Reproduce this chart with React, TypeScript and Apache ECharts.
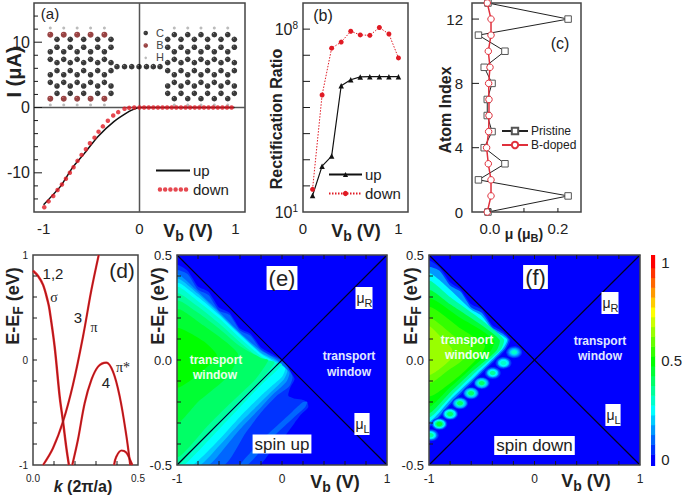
import React, { useEffect, useRef } from "react";
import * as echarts from "echarts";

const F = "Liberation Sans";

// (a) I-V curves
const A_UP = [[-1,-14.9],[-0.82,-12],[-0.7,-9.24],[-0.576,-7.06],[-0.4375,-4.5],[-0.264,-2.13],[-0.108,-0.6],[-0.055,-0.25],[0,0],[0.5,0],[0.99,0]];
const A_DOWN = [[-0.993,-15.28],[-0.948,-14.37],[-0.899,-13.55],[-0.854,-12.64],[-0.809,-11.78],[-0.767,-10.91],[-0.726,-10],[-0.6875,-9.14],[-0.646,-8.17],[-0.604,-7.26],[-0.559,-6.4],[-0.517,-5.48],[-0.469,-4.62],[-0.427,-3.7],[-0.382,-2.89],[-0.33,-2.03],[-0.274,-1.22],[-0.222,-0.71],[-0.156,-0.2],[-0.108,-0.05],[-0.055,0],[0,0],[0.048,0],[0.096,0],[0.144,0],[0.192,0],[0.24,0],[0.288,0],[0.336,0],[0.384,0],[0.432,0],[0.48,0],[0.528,0],[0.576,0],[0.624,0],[0.672,0],[0.72,0],[0.768,0],[0.816,0],[0.864,0],[0.912,0],[0.96,0]];

// (a) inset atoms, in the panel's own axis units
const L_COL_A = [-0.93,-0.79,-0.65,-0.51,-0.366];
const L_COL_B = [-0.86,-0.722,-0.582,-0.436,-0.297];
const R_COL_A = [0.363,0.503,0.641,0.78,0.92];
const R_COL_B = [0.294,0.433,0.572,0.71,0.85,0.989];
const ROW_A_EDGE = [11.15,1.35];
const ROW_A = [8.54,7.37,5.02,3.85];
const ROW_B = [10.44,9.22,6.86,5.64,3.29,2.17];
const ROW_H = [12.17,0.38];
const CHAIN_V = [-0.235,-0.156,-0.081,-0.005,0.073,0.144,0.214];
const CHAIN_I = 6.25;
const KEY_V = 0.065;
const KEY_I = [11.4,9.5,7.6];

const cross = (xs: number[], ys: number[]) => xs.flatMap((x) => ys.map((y) => [x, y]));
const ATOMS_C = [
  ...cross(L_COL_A, ROW_A), ...cross(L_COL_B, ROW_B),
  ...cross(R_COL_A, ROW_A), ...cross(R_COL_A, ROW_A_EDGE), ...cross(R_COL_B, ROW_B),
  ...CHAIN_V.map((v) => [v, CHAIN_I]),
];
const ATOMS_B = cross(L_COL_A, ROW_A_EDGE);
const ATOMS_H = [...cross(L_COL_A, ROW_H), ...cross(R_COL_A, ROW_H)];

// (b) rectification ratio
const B_V = [0.1,0.2,0.3,0.4,0.5,0.6,0.7,0.8,0.9,1.0];
const B_UP = [43,570,1380,6.8e5,1.15e6,1.48e6,1.51e6,1.51e6,1.51e6,1.51e6];
const B_DOWN = [74,3.0e5,1.86e7,3.2e7,8.3e7,6.0e7,5.8e7,1.15e8,6.5e7,7.9e6];

// (c) magnetic moment by atom index
const C_INDEX = [0,1,2,3,4,5,6,7,8,9,10,11,12,13];
const C_PRISTINE = [-0.006,0.23,-0.034,0.044,-0.017,0.006,-0.008,-0.008,0.006,-0.017,0.044,-0.034,0.23,-0.006];
const C_BDOPED = [-0.008,0.003,0.003,-0.005,-0.01,-0.004,-0.003,-0.003,-0.004,0,-0.005,0.003,0.003,-0.008];

// (d) band structure
const D_BAND_12 = [[0,0.85],[0.024,0.8],[0.048,0.715],[0.071,0.555],[0.079,0.475],[0.103,0.127],[0.127,-0.349],[0.143,-0.586],[0.159,-0.84],[0.171,-1]];
const D_BAND_3 = [[0.048,-1],[0.095,-0.84],[0.143,-0.586],[0.19,-0.238],[0.238,0.222],[0.278,0.666],[0.313,1]];
const D_BAND_4 = [[0.187,-1],[0.214,-0.76],[0.246,-0.412],[0.278,-0.19],[0.31,-0.063],[0.349,-0.025],[0.381,-0.111],[0.413,-0.349],[0.444,-0.713],[0.463,-1]];
const D_BAND_5 = [[0.386,-1],[0.397,-0.92],[0.421,-0.862],[0.444,-0.88],[0.462,-0.95],[0.473,-1]];

// tick positions
const A_MAJOR = [-10,0,10];
const A_MINOR = [-14,-12,-8,-6,-4,-2,2,4,6,8,12,14];
const B_DECADES = [1e2,1e3,1e4,1e5,1e6,1e7,1e8];
const C_ROWS = [4,8,12];
const C_COLS = [0,0.1,0.2];
const D_ROWS = [-0.8,-0.6,-0.4,-0.2,0,0.2,0.4,0.6,0.8];
const D_COLS = [0.1,0.2,0.3,0.4];
const MAP_ROWS = [-0.4,-0.3,-0.2,-0.1,0,0.1,0.2,0.3,0.4];
const MAP_COLS = [-0.8,-0.6,-0.4,-0.2,0,0.2,0.4,0.6,0.8];

// (e) contours of the spin-up transmission: [level, outline in (Vb, E)]
const FULL = [[-1,-0.5],[1,-0.5],[1,0.5],[-1,0.5]];
const E_CONTOURS: [number, number[][]][] = [
  [0, FULL],
  [0.05, [[-1,0.45],[-0.9,0.425],[-0.8,0.35],[-0.7,0.325],[-0.6,0.25],[-0.5,0.225],[-0.4,0.15],[-0.3,0.125],[-0.2,0.06],[-0.1,0.03],[0,0],[0.06,-0.04],[0.12,-0.09],[0.08,-0.13],[0.06,-0.17],[0.13,-0.185],[0.2,-0.19],[0.24,-0.2],[0.25,-0.225],[0.18,-0.26],[0.12,-0.3],[0.03,-0.36],[-0.1,-0.43],[-0.22,-0.5],[-1,-0.5]]],
  [0.1, [[0.24,-0.2],[0.22,-0.225],[0.11,-0.275],[-0.02,-0.335],[-0.145,-0.395],[-0.25,-0.46],[-0.33,-0.5],[-0.4,-0.5],[-0.3,-0.44],[-0.16,-0.365],[-0.03,-0.305],[0.1,-0.245],[0.2,-0.2]]],
  [0.1, [[-1,0.425],[-0.9,0.41],[-0.8,0.335],[-0.7,0.31],[-0.6,0.235],[-0.5,0.215],[-0.4,0.14],[-0.3,0.115],[-0.2,0.05],[-0.1,0.02],[0.02,-0.01],[0.1,-0.08],[0.07,-0.125],[-0.05,-0.17],[-0.2,-0.25],[-0.35,-0.35],[-0.55,-0.5],[-1,-0.5]]],
  [0.15, [[-1,0.405],[-0.8,0.325],[-0.6,0.23],[-0.4,0.13],[-0.2,0.045],[-0.05,0],[0.07,-0.06],[0.04,-0.105],[-0.1,-0.17],[-0.2,-0.225],[-0.4,-0.33],[-0.55,-0.42],[-0.7,-0.5],[-1,-0.5]]],
  [0.2, [[-1,0.385],[-0.8,0.315],[-0.6,0.222],[-0.4,0.125],[-0.2,0.035],[-0.05,-0.005],[0.05,-0.05],[0.02,-0.09],[-0.1,-0.15],[-0.2,-0.2],[-0.4,-0.3],[-0.6,-0.41],[-0.78,-0.5],[-1,-0.5]]],
  [0.25, [[-1,0.365],[-0.8,0.3],[-0.6,0.215],[-0.4,0.12],[-0.2,0.03],[-0.08,-0.005],[0.03,-0.04],[0,-0.08],[-0.1,-0.125],[-0.2,-0.17],[-0.4,-0.27],[-0.6,-0.38],[-0.85,-0.5],[-1,-0.5]]],
  [0.3, [[-1,0.345],[-0.8,0.28],[-0.6,0.2],[-0.4,0.105],[-0.2,0.018],[-0.1,-0.01],[0,-0.02],[-0.05,-0.05],[-0.2,-0.12],[-0.4,-0.225],[-0.6,-0.33],[-0.93,-0.5],[-1,-0.5]]],
  [0.35, [[-1,0.315],[-0.8,0.255],[-0.6,0.175],[-0.4,0.085],[-0.2,0.005],[-0.07,-0.01],[-0.2,-0.095],[-0.4,-0.19],[-0.6,-0.295],[-0.8,-0.4],[-1,-0.5]]],
  [0.4, [[-1,0.28],[-0.8,0.225],[-0.6,0.15],[-0.4,0.065],[-0.2,0.01],[-0.13,0],[-0.25,-0.09],[-0.5,-0.21],[-0.7,-0.31],[-1,-0.46]]],
  [0.45, [[-1,0.24],[-0.75,0.165],[-0.42,0.03],[-0.52,-0.08],[-0.8,-0.2],[-1,-0.3]]],
  [0.5, [[-1,0.15],[-0.75,0.09],[-0.62,0.02],[-0.8,-0.07],[-1,-0.13]]],
];

// (f) contours of the spin-down transmission
const F_CONTOURS: [number, number[][]][] = [
  [0, FULL],
  [0.05, [[-1,0.47],[-0.9,0.44],[-0.8,0.37],[-0.7,0.335],[-0.6,0.265],[-0.5,0.24],[-0.4,0.165],[-0.3,0.135],[-0.23,0.094],[-0.27,0.05],[-0.55,-0.09],[-0.78,-0.205],[-1,-0.315]]],
  [0.15, [[-1,0.44],[-0.9,0.425],[-0.8,0.355],[-0.7,0.325],[-0.6,0.25],[-0.5,0.225],[-0.4,0.155],[-0.3,0.125],[-0.245,0.097],[-0.28,0.055],[-0.55,-0.08],[-0.78,-0.195],[-1,-0.305]]],
  [0.25, [[-1,0.41],[-0.8,0.335],[-0.6,0.24],[-0.5,0.21],[-0.4,0.145],[-0.26,0.098],[-0.3,0.055],[-0.55,-0.07],[-0.78,-0.18],[-1,-0.29]]],
  [0.35, [[-1,0.375],[-0.8,0.3],[-0.5,0.19],[-0.29,0.098],[-0.32,0.05],[-0.55,-0.055],[-0.78,-0.165],[-1,-0.27]]],
  [0.45, [[-1,0.33],[-0.8,0.265],[-0.5,0.165],[-0.33,0.095],[-0.36,0.045],[-0.6,-0.06],[-0.8,-0.155],[-1,-0.25]]],
  [0.5, [[-1,0.29],[-0.7,0.2],[-0.5,0.14],[-0.38,0.09],[-0.42,0.04],[-0.6,-0.04],[-0.8,-0.13],[-1,-0.22]]],
  [0.55, [[-1,0.25],[-0.7,0.15],[-0.47,0.07],[-0.52,0.02],[-0.7,-0.07],[-1,-0.17]]],
  [0.6, [[-1,0.2],[-0.75,0.11],[-0.6,0.06],[-0.68,0],[-0.82,-0.05],[-1,-0.11]]],
  [0.65, [[-1,0.16],[-0.85,0.09],[-0.78,0.05],[-0.8,0],[-1,-0.07]]],
];
const F_BLOB_V = [-0.193,-0.294,-0.396,-0.5,-0.601,-0.706,-0.8,-0.902,-0.984];
const F_BLOB_E = [0.037,-0.014,-0.062,-0.11,-0.158,-0.206,-0.257,-0.305,-0.358];
const F_BLOB_PEAK = [0.3,0.32,0.35,0.38,0.38,0.4,0.42,0.45,0.35];
const BLOB_STEPS = [0.15,0.35,0.55,0.75,1];

// colour bar
const CB_LEVELS = [0,0.05,0.1,0.15,0.2,0.25,0.3,0.35,0.4,0.45,0.5,0.55,0.6,0.65,0.7,0.75,0.8,0.85,0.9,0.95,1];
const CB_MIN = -0.035;
const CB_MAX = 1.04;

const VB_TICKS = [-1,0,1];

const jet = (v: number) => {
  const t = Math.max(0, Math.min(1, v)) * 4;
  const c = (x: number) => Math.round(Math.max(0, Math.min(1, x)) * 255);
  let r = 0, g = 0, b = 0;
  if (t < 1) { g = t; b = 1; }
  else if (t < 2) { g = 1; b = 2 - t; }
  else if (t < 3) { r = t - 2; g = 1; }
  else { r = 1; g = 4 - t; }
  return `rgb(${c(r)},${c(g)},${c(b)})`;
};

const sub = (size: number, pad: number, bold = true) => ({
  m: { fontSize: size, fontWeight: bold ? "bold" : "normal", fontFamily: F, fill: "#222", color: "#222" },
  s: { fontSize: Math.round(size * 0.78), fontWeight: bold ? "bold" : "normal", fontFamily: F, color: "#222", verticalAlign: "bottom", padding: [pad, 0, 0, 0] },
});

const T = (text: string, x: number, y: number, size: number, o: any = {}) => ({
  type: "text", x, y, z: 100, rotation: o.rot || 0, silent: true,
  style: {
    text, fontSize: size, fontFamily: o.family || F, fontWeight: o.bold ? "bold" : "normal",
    fontStyle: o.italic ? "italic" : "normal",
    fill: o.fill || "#222", align: "center", verticalAlign: "middle",
    rich: o.rich, backgroundColor: o.bg, padding: o.pad,
  },
});

const ROT = Math.PI / 2;
const GRAPHIC = [
  T("{m|I (μA)}", 14, 72, 20, { rot: ROT, bold: true, rich: sub(20, 0) }),
  T("{m|V}{s|b}{m| (V)}", 188, 231, 18, { bold: true, rich: sub(18, 9) }),
  T("(a)", 50, 13, 15),
  T("C", 160, 32.7, 11, { fill: "#444" }),
  T("B", 160, 45, 11, { fill: "#444" }),
  T("H", 160, 57.3, 11, { fill: "#444" }),
  T("Rectification Ratio", 276, 119, 16, { rot: ROT, bold: true }),
  T("{m|V}{s|b}{m| (V)}", 356, 231, 18, { bold: true, rich: sub(18, 9) }),
  T("(b)", 323, 15, 16),
  T("Atom Index", 445, 110, 16, { rot: ROT, bold: true }),
  T("{m|μ (μ}{s|B}{m|)}", 524, 234, 14, { bold: true, rich: sub(14, 7) }),
  T("(c)", 560, 43, 16),
  T("{m|E-E}{s|F}{m| (eV)}", 13, 306, 18, { rot: ROT, bold: true, rich: sub(18, 9) }),
  T("1,2", 53, 273, 15),
  T("σ", 54, 297, 14, { family: "Liberation Serif" }),
  T("3", 78, 317, 15),
  T("π", 94, 327, 14, { family: "Liberation Serif" }),
  T("(d)", 122, 270, 21),
  T("π*", 123, 367, 14, { family: "Liberation Serif" }),
  T("4", 106, 382, 15),
  T("{i|k} {m|(2π/a)}", 83, 486, 16, { bold: true, rich: { i: { fontSize: 16, fontWeight: "bold", fontStyle: "italic", fontFamily: F, color: "#222" }, m: { fontSize: 16, fontWeight: "bold", fontFamily: F, color: "#222" } } }),
  T("{m|E-E}{s|F}{m| (eV)}", 158, 306, 18, { rot: ROT, bold: true, rich: sub(18, 9) }),
  T("{m|V}{s|b}{m| (V)}", 335, 482, 18, { bold: true, rich: sub(18, 9) }),
  T("(e)", 282, 278, 22, { bg: "#fff", pad: [1, 2, 1, 2] }),
  T("spin up", 282, 444, 17, { bg: "#fff", pad: [1, 2, 1, 2] }),
  T("{m|μ}{s|R}", 364, 298, 14, { bg: "#fff", pad: [1, 0, 1, 1], rich: sub(14, 9, false) }),
  T("{m|μ}{s|L}", 362, 424, 14, { bg: "#fff", pad: [1, 0, 1, 1], rich: sub(14, 9, false) }),
  T("transport", 216, 360, 12, { bold: true, fill: "#eaffea" }),
  T("window", 215, 375, 12, { bold: true, fill: "#eaffea" }),
  T("transport", 349, 356, 12, { bold: true, fill: "#e0e8ff" }),
  T("window", 349, 372, 12, { bold: true, fill: "#e0e8ff" }),
  T("{m|E-E}{s|F}{m| (eV)}", 411, 306, 18, { rot: ROT, bold: true, rich: sub(18, 9) }),
  T("{m|V}{s|b}{m| (V)}", 586, 481, 18, { bold: true, rich: sub(18, 9) }),
  T("(f)", 535.5, 277, 22, { bg: "#fff", pad: [1, 2, 1, 2] }),
  T("spin down", 534.5, 445.5, 17, { bg: "#fff", pad: [1, 2, 1, 2] }),
  T("{m|μ}{s|R}", 610, 303, 14, { bg: "#fff", pad: [1, 0, 1, 1], rich: sub(14, 9, false) }),
  T("{m|μ}{s|L}", 613, 415, 14, { bg: "#fff", pad: [1, 0, 1, 1], rich: sub(14, 9, false) }),
  T("transport", 467, 340, 12, { bold: true, fill: "#f0fff0" }),
  T("window", 467, 355, 12, { bold: true, fill: "#f0fff0" }),
  T("transport", 600, 341, 12, { bold: true, fill: "#e0e8ff" }),
  T("window", 600, 356, 12, { bold: true, fill: "#e0e8ff" }),
];

const grid = (left: number, top: number, width: number, height: number, extra: any = {}) => ({
  left, top, width, height, show: true, borderColor: "#444", borderWidth: 1.5, backgroundColor: "transparent", containLabel: false, ...extra,
});
const LBL = (size: number, margin: number, extra: any = {}) => ({ fontSize: size, fontFamily: F, color: "#222", margin, ...extra });
const NOTICK = { show: false };
const NOLINE = { show: false, onZero: false };
const NOSPLIT = { show: false };

const xAxes = [
  { gridIndex: 0, type: "value", min: -1.1, max: 1.1, axisLine: NOLINE, splitLine: NOSPLIT, axisTick: NOTICK, axisLabel: LBL(15, 9, { customValues: VB_TICKS }) },
  { gridIndex: 1, type: "value", min: 0, max: 1.1, axisLine: NOLINE, splitLine: NOSPLIT, axisTick: NOTICK, axisLabel: LBL(15, 9, { customValues: [0, 1] }) },
  { gridIndex: 2, type: "value", min: -0.053, max: 0.268, axisLine: NOLINE, splitLine: NOSPLIT, axisTick: NOTICK, axisLabel: LBL(15, 9, { customValues: [0, 0.2], formatter: (v: number) => v.toFixed(1) }) },
  { gridIndex: 3, type: "value", min: 0, max: 0.5, interval: 0.1, axisLine: NOLINE, splitLine: NOSPLIT, axisTick: NOTICK, axisLabel: LBL(10, 8, { customValues: [0, 0.5], formatter: (v: number) => v.toFixed(1) }) },
  { gridIndex: 4, type: "value", min: -1, max: 1, interval: 0.2, axisLine: NOLINE, splitLine: NOSPLIT, axisTick: NOTICK, axisLabel: LBL(12, 8, { customValues: VB_TICKS }) },
  { gridIndex: 5, type: "value", min: -1, max: 1, interval: 0.2, axisLine: NOLINE, splitLine: NOSPLIT, axisTick: NOTICK, axisLabel: LBL(12, 8, { customValues: VB_TICKS }) },
  { gridIndex: 6, type: "value", min: 0, max: 1, show: false },
];
const yAxes = [
  { gridIndex: 0, type: "value", min: -16, max: 16, axisLine: NOLINE, splitLine: NOSPLIT, axisTick: NOTICK, axisLabel: LBL(16, 4, { customValues: A_MAJOR }) },
  {
    gridIndex: 1, type: "log", logBase: 10, min: 10, max: 1e9, splitNumber: 8, axisLine: NOLINE, splitLine: NOSPLIT, minorTick: { show: false }, axisTick: NOTICK,
    axisLabel: LBL(16, 5, {
      formatter: (v: number) => { const e = Math.round(Math.log10(v)); return e === 1 || e === 8 ? `{b|10}{t|${e}}` : ""; },
      rich: { b: { fontSize: 16, fontFamily: F, color: "#222" }, t: { fontSize: 10, fontFamily: F, color: "#222", verticalAlign: "top", padding: [0, 0, 8, 0] } },
    }),
  },
  { gridIndex: 2, type: "value", min: 0, max: 13, axisLine: NOLINE, splitLine: NOSPLIT, axisTick: NOTICK, axisLabel: LBL(15, 9, { customValues: [0, 4, 8, 12] }) },
  { gridIndex: 3, type: "value", min: -1, max: 1, interval: 0.2, axisLine: NOLINE, splitLine: NOSPLIT, axisTick: NOTICK, axisLabel: LBL(10, 5, { customValues: [-1, 0, 1] }) },
  { gridIndex: 4, type: "value", min: -0.5, max: 0.5, interval: 0.1, axisLine: NOLINE, splitLine: NOSPLIT, axisTick: NOTICK, axisLabel: LBL(13, 5, { customValues: [-0.5, 0, 0.5], formatter: (v: number) => v.toFixed(1) }) },
  { gridIndex: 5, type: "value", min: -0.5, max: 0.5, interval: 0.1, axisLine: NOLINE, splitLine: NOSPLIT, axisTick: NOTICK, axisLabel: LBL(13, 5, { customValues: [-0.5, 0, 0.5], formatter: (v: number) => v.toFixed(1) }) },
  { gridIndex: 6, type: "value", position: "right", min: CB_MIN, max: CB_MAX, axisLine: NOLINE, splitLine: NOSPLIT, axisTick: NOTICK, axisLabel: LBL(15, 6, { customValues: [0, 0.5, 1] }) },
];

// ticks on the inner side of a frame: (dx, dy) is the tick's vector from its anchor on the frame
const ticks = (ai: number, points: number[][], dx: number, dy: number) => ({
  type: "custom", xAxisIndex: ai, yAxisIndex: ai, clip: false, silent: true, z: 12,
  data: points, encode: { x: 0, y: 1 },
  renderItem: (_: any, api: any) => {
    const c = api.coord([api.value(0), api.value(1)]);
    return { type: "line", shape: { x1: c[0], y1: c[1], x2: c[0] + dx, y2: c[1] + dy }, style: { stroke: "#1a1a1a", lineWidth: 1 } };
  },
});
const atX = (x: number, ys: number[]) => ys.map((y) => [x, y]);
const atY = (y: number, xs: number[]) => xs.map((x) => [x, y]);

const atomFill = (hi: string, lo: string) =>
  new echarts.graphic.RadialGradient(0.35, 0.3, 0.5, [{ offset: 0, color: hi }, { offset: 0.35, color: lo }, { offset: 1, color: lo }]);

const plainLine = (ai: number, data: number[][], color: string, width: number, z = 2) => ({
  type: "line", xAxisIndex: ai, yAxisIndex: ai, data, symbol: "none", silent: true, z,
  lineStyle: { color, width }, emphasis: { disabled: true },
});
const band = (data: number[][], color: string, width: number, z: number) => ({
  type: "line", xAxisIndex: 3, yAxisIndex: 3, data, symbol: "none", smooth: 0.35, silent: true, z, lineStyle: { color, width },
});
const contourSeries = (ai: number, list: [number, number[][]][]) => ({
  type: "custom", xAxisIndex: ai, yAxisIndex: ai, clip: true, silent: true, z: 2,
  data: list.map((c) => c[1][0]), encode: { x: 0, y: 1 },
  renderItem: (p: any, api: any) => {
    const [lv, pts] = list[p.dataIndex];
    return { type: "polygon", shape: { points: pts.map((q) => api.coord(q)), smooth: lv > 0 ? 0.2 : 0 }, style: { fill: jet(lv) } };
  },
});
const blobSeries = {
  type: "custom", xAxisIndex: 5, yAxisIndex: 5, clip: true, silent: true, z: 3,
  data: F_BLOB_V.map((v, i) => [v, F_BLOB_E[i], F_BLOB_PEAK[i]]), encode: { x: 0, y: 1 },
  renderItem: (_: any, api: any) => {
    const c = api.coord([api.value(0), api.value(1)]);
    const peak = api.value(2);
    const [rx, ry] = api.size([0.08, 0.03]);
    return {
      type: "group",
      children: BLOB_STEPS.map((s) => ({
        type: "ellipse",
        shape: { cx: c[0], cy: c[1], rx: rx * (1.05 - 0.7 * s), ry: ry * (1.05 - 0.7 * s) },
        style: { fill: jet(Math.round((peak * s) / 0.05) * 0.05) },
      })),
    };
  },
};
const colorBar = {
  type: "custom", xAxisIndex: 6, yAxisIndex: 6, clip: true, silent: true,
  data: CB_LEVELS.map((l) => [0, l]), encode: { x: 0, y: 1 },
  renderItem: (_: any, api: any) => {
    const l = api.value(1);
    const top = api.coord([0, Math.min(CB_MAX, l === 1 ? CB_MAX : l + 0.025)]);
    const bot = api.coord([1, Math.max(CB_MIN, l === 0 ? CB_MIN : l - 0.025)]);
    return { type: "rect", shape: { x: top[0], y: top[1], width: bot[0] - top[0], height: bot[1] - top[1] + 0.5 }, style: { fill: jet(l) } };
  },
};

const SERIES: any[] = [
  // (a)
  plainLine(0, [[0, -16], [0, 16]], "#555", 1.5, 1),
  plainLine(0, [[-1.1, 0], [1.1, 0]], "#555", 1.5, 1),
  { type: "scatter", xAxisIndex: 0, yAxisIndex: 0, data: ATOMS_H, symbolSize: 3, silent: true, itemStyle: { color: "#aaa" }, z: 2 },
  { type: "scatter", xAxisIndex: 0, yAxisIndex: 0, data: ATOMS_C, symbolSize: 5.6, silent: true, itemStyle: { color: atomFill("#777", "#080808") }, z: 2 },
  { type: "scatter", xAxisIndex: 0, yAxisIndex: 0, data: ATOMS_B, symbolSize: 6, silent: true, itemStyle: { color: atomFill("#c66", "#7e1414") }, z: 2 },
  { type: "scatter", xAxisIndex: 0, yAxisIndex: 0, data: [[KEY_V, KEY_I[0]]], symbolSize: 4.5, silent: true, itemStyle: { color: atomFill("#777", "#080808") }, z: 2 },
  { type: "scatter", xAxisIndex: 0, yAxisIndex: 0, data: [[KEY_V, KEY_I[1]]], symbolSize: 4.5, silent: true, itemStyle: { color: atomFill("#c66", "#7e1414") }, z: 2 },
  { type: "scatter", xAxisIndex: 0, yAxisIndex: 0, data: [[KEY_V, KEY_I[2]]], symbolSize: 2.6, silent: true, itemStyle: { color: "#aaa" }, z: 2 },
  { name: "up|a", type: "line", xAxisIndex: 0, yAxisIndex: 0, data: A_UP, symbol: "none", smooth: 0.2, silent: true, z: 3, lineStyle: { color: "#111", width: 1.5 }, itemStyle: { color: "#111" } },
  { name: "down|a", type: "scatter", xAxisIndex: 0, yAxisIndex: 0, data: A_DOWN, symbol: "circle", symbolSize: 4.5, silent: true, z: 4, itemStyle: { color: "#e01a24" } },
  ticks(0, atX(-1.1, A_MAJOR), 8, 0),
  ticks(0, atX(-1.1, A_MINOR), 4, 0),
  // (b)
  { name: "up|b", type: "line", xAxisIndex: 1, yAxisIndex: 1, data: B_V.map((v, i) => [v, B_UP[i]]), symbol: "triangle", symbolSize: 5.5, silent: true, z: 3, lineStyle: { color: "#111", width: 1.2 }, itemStyle: { color: "#111" } },
  { name: "down|b", type: "line", xAxisIndex: 1, yAxisIndex: 1, data: B_V.map((v, i) => [v, B_DOWN[i]]), symbol: "circle", symbolSize: 5, silent: true, z: 3, lineStyle: { color: "#e01a24", width: 1, type: [1.5, 1.5] }, itemStyle: { color: "#e01a24" } },
  ticks(1, atX(0, B_DECADES), 7, 0),
  // (c)
  { name: "Pristine|c", type: "line", xAxisIndex: 2, yAxisIndex: 2, data: C_INDEX.map((k, i) => [C_PRISTINE[i], k]), symbol: "rect", symbolSize: 6.5, showAllSymbol: true, silent: true, z: 3, lineStyle: { color: "#222", width: 1 }, itemStyle: { color: "#fff", borderColor: "#555", borderWidth: 1 } },
  { name: "B-doped|c", type: "line", xAxisIndex: 2, yAxisIndex: 2, data: C_INDEX.map((k, i) => [C_BDOPED[i], k]), symbol: "circle", symbolSize: 6.5, showAllSymbol: true, silent: true, z: 4, lineStyle: { color: "#e0303c", width: 1.5 }, itemStyle: { color: "#fff", borderColor: "#e0303c", borderWidth: 1 } },
  ticks(2, atX(-0.053, C_ROWS), 7, 0),
  ticks(2, atY(0, C_COLS), 0, -4),
  // (d)
  band(D_BAND_12, "#e8262a", 2.4, 3), band(D_BAND_3, "#e8262a", 2.2, 3), band(D_BAND_4, "#e8262a", 2.2, 3), band(D_BAND_5, "#e8262a", 2.2, 3),
  band(D_BAND_12, "#300808", 0.4, 4), band(D_BAND_3, "#300808", 0.4, 4), band(D_BAND_4, "#300808", 0.4, 4), band(D_BAND_5, "#300808", 0.4, 4),
  ticks(3, atX(0, D_ROWS), 4, 0),
  ticks(3, atY(-1, D_COLS), 0, -4),
  // (e)
  contourSeries(4, E_CONTOURS),
  plainLine(4, [[-1, 0.5], [1, -0.5]], "#000020", 1.2, 5),
  plainLine(4, [[-1, -0.5], [1, 0.5]], "#000020", 1.2, 5),
  ticks(4, atX(-1, MAP_ROWS), 4, 0),
  ticks(4, atY(-0.5, MAP_COLS), 0, -4),
  ticks(4, atY(0.5, MAP_COLS), 0, 4),
  // (f)
  contourSeries(5, F_CONTOURS),
  blobSeries,
  plainLine(5, [[-1, 0.5], [1, -0.5]], "#000020", 1.2, 5),
  plainLine(5, [[-1, -0.5], [1, 0.5]], "#000020", 1.2, 5),
  ticks(5, atX(-1, MAP_ROWS), 4, 0),
  ticks(5, atY(-0.5, MAP_COLS), 0, -4),
  ticks(5, atY(0.5, MAP_COLS), 0, 4),
  colorBar,
];

const legendBase = (left: number, top: number, names: any[], width: number, height: number, size: number, gap: number) => ({
  left, top, orient: "vertical", itemWidth: width, itemHeight: height, itemGap: gap, selectedMode: false, padding: 0,
  data: names, formatter: (n: string) => n.split("|")[0], textStyle: { fontFamily: F, fontSize: size, color: "#222", padding: [0, 0, 0, -2] },
});
const DOTS = "path://" + [0, 1, 2, 3, 4, 5].map((i) => { const x = 2.5 + i * 5.8; return `M${x - 2.5} 2.5a2.5 2.5 0 1 0 5 0a2.5 2.5 0 1 0 -5 0Z`; }).join("");

const OPTION: any = {
  animation: false,
  backgroundColor: "#fff",
  textStyle: { fontFamily: F },
  grid: [
    grid(34, 3, 211, 209),
    grid(303, 3, 105, 209),
    grid(472, 3, 109, 209),
    grid(33, 255, 105, 210),
    grid(177, 255, 210, 210, { z: 10 }),
    grid(429, 255, 211, 210, { z: 10 }),
    grid(651, 255, 9, 211, { show: false }),
  ],
  xAxis: xAxes,
  yAxis: yAxes,
  legend: [
    legendBase(155, 163, [{ name: "up|a", itemStyle: { opacity: 0 } }, { name: "down|a", icon: DOTS }], 34, 4.5, 15, 4),
    legendBase(328, 167, ["up|b", "down|b"], 33, 6.5, 15, 4),
    legendBase(501, 125, ["Pristine|c", "B-doped|c"], 26, 8, 12, 2),
  ],
  series: SERIES,
  graphic: GRAPHIC,
};

export default function App() {
  const ref = useRef<HTMLDivElement>(null);
  useEffect(() => {
    document.body.style.margin = "0";
    const chart = echarts.init(ref.current!, null, { renderer: "svg" });
    chart.setOption(OPTION);
    return () => chart.dispose();
  }, []);
  return <div ref={ref} style={{ width: 685, height: 496 }} />;
}
